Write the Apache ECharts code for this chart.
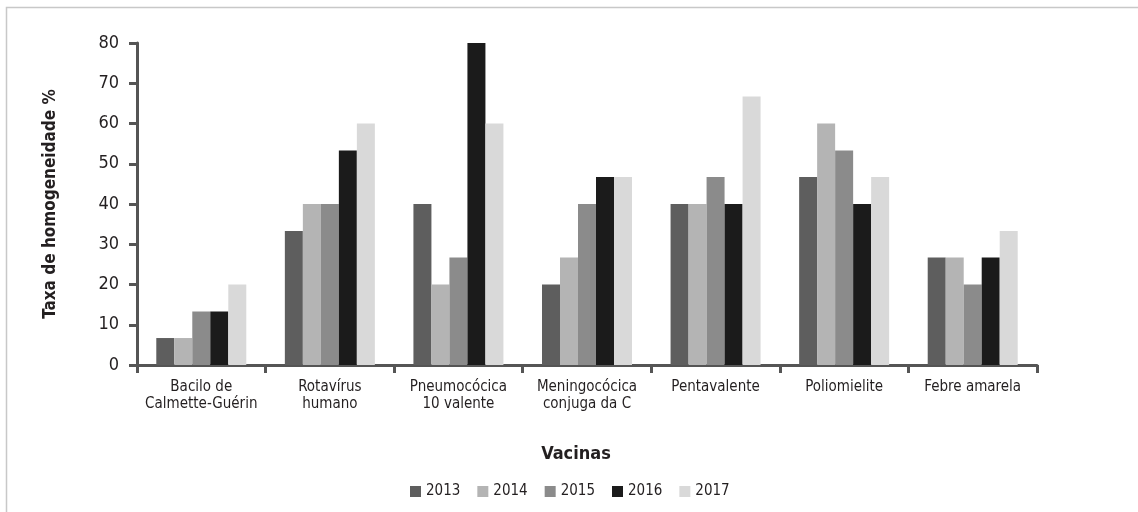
<!DOCTYPE html>
<html>
<head>
<meta charset="utf-8">
<script src="https://cdn.jsdelivr.net/npm/echarts@6/dist/echarts.min.js"></script>
<style>
html, body { margin: 0; padding: 0; background: #fff; }
#main { width: 1138px; height: 512px; }
</style>
</head>
<body>
<div id="main"></div>
<script>
var vacinas = ['Bacilo de\nCalmette-Guérin', 'Rotavírus\nhumano', 'Pneumocócica\n10 valente', 'Meningocócica\nconjuga da C', 'Pentavalente', 'Poliomielite', 'Febre amarela'];
var anos = ['2013', '2014', '2015', '2016', '2017'];
var v2013 = [6.7, 33.3, 40, 20, 40, 46.7, 26.7];
var v2014 = [6.7, 40, 20, 26.7, 40, 60, 26.7];
var v2015 = [13.3, 40, 26.7, 40, 46.7, 53.3, 20];
var v2016 = [13.3, 53.3, 80, 46.7, 40, 40, 26.7];
var v2017 = [20, 60, 60, 46.7, 66.7, 46.7, 33.3];
var yTicks = [0, 10, 20, 30, 40, 50, 60, 70, 80];

var cores = ['#5e5e5e', '#b4b4b4', '#8b8b8b', '#1b1b1b', '#d9d9d9'];
var valores = [v2013, v2014, v2015, v2016, v2017];
var fonte = '"Liberation Sans Narrow", "DejaVu Sans Condensed", sans-serif';

var chart = echarts.init(document.getElementById('main'));
var option = {
    animation: false,
    color: cores,
    textStyle: { fontFamily: fonte, color: '#231f20' },
    graphic: [{
        type: 'rect',
        shape: { x: 6.5, y: 7.5, width: 1200, height: 600 },
        style: { fill: 'none', stroke: '#c8c8c8', lineWidth: 1.5 },
        silent: true
    }],
    legend: {
        data: anos,
        left: 405,
        top: 479,
        itemWidth: 11,
        itemHeight: 11,
        itemGap: 17,
        icon: 'rect',
        textStyle: { fontSize: 15, color: '#231f20', fontFamily: fonte }
    },
    grid: { left: 137, right: 101, top: 43, bottom: 147, containLabel: false },
    xAxis: {
        type: 'category',
        data: vacinas,
        name: 'Vacinas',
        nameLocation: 'middle',
        nameGap: 80,
        nameTextStyle: { fontSize: 18, fontWeight: 'bold', color: '#231f20', fontFamily: fonte, padding: [0, 22, 0, 0] },
        axisLine: { lineStyle: { color: '#555555', width: 3 } },
        axisTick: { show: true, length: 8, lineStyle: { color: '#555555', width: 3 } },
        axisLabel: { fontSize: 15, lineHeight: 17, margin: 14, color: '#231f20', fontFamily: fonte, interval: 0 }
    },
    yAxis: {
        type: 'value',
        min: yTicks[0],
        max: yTicks[yTicks.length - 1],
        interval: 10,
        name: 'Taxa de homogeneidade %',
        nameLocation: 'middle',
        nameGap: 78,
        nameTextStyle: { fontSize: 17, fontWeight: 'bold', color: '#231f20', fontFamily: fonte },
        axisLine: { show: true, lineStyle: { color: '#555555', width: 3 } },
        axisTick: { show: true, length: 8, lineStyle: { color: '#555555', width: 3 } },
        splitLine: { show: false },
        axisLabel: { fontSize: 18, margin: 18, color: '#231f20', fontFamily: fonte }
    },
    series: anos.map(function (ano, i) {
        return {
            name: ano,
            type: 'bar',
            data: valores[i],
            barGap: '0%',
            barCategoryGap: '30%',
            itemStyle: { color: cores[i] }
        };
    })
};
chart.setOption(option);
</script>
</body>
</html>
